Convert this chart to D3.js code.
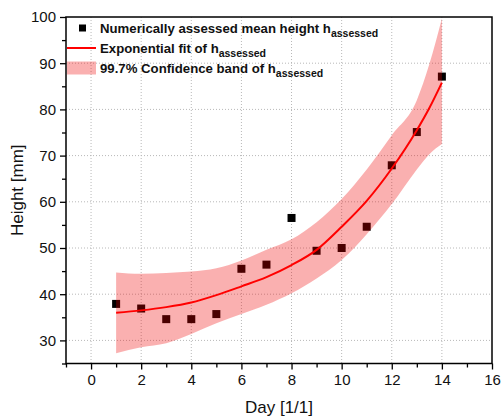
<!doctype html>
<html>
<head>
    <style>
        body { margin: 0; background: #fff; }
        text { font-family: "Liberation Sans", Arial, sans-serif; fill: #111; }
        .grid line { stroke: #b8b8b8; stroke-width: 1; stroke-dasharray: 1,2; }
        .legend text { font-weight: bold; font-size: 13.2px; }
    </style>
    <script src="https://d3js.org/d3.v7.min.js"></script>
</head>
<body>
<svg width="501" height="416"></svg>
<script>
// measured points
var days = [1, 2, 3, 4, 5, 6, 7, 8, 9, 10, 11, 12, 13, 14];
var heights = [37.9, 36.9, 34.6, 34.6, 35.7, 45.5, 46.4, 56.5, 49.4, 50.0, 54.6, 67.9, 75.1, 87.1];

// exponential fit + 99.7% band
var fitDays = [1, 2, 3, 4, 5, 6, 7, 8, 9, 10, 11, 12, 13, 13.5, 14];
var fitVals = [36.0, 36.5, 37.2, 38.2, 39.8, 41.7, 43.7, 46.3, 49.6, 54.6, 60.2, 67.2, 75.5, 80.3, 85.8];
var bandUpper = [44.7, 44.4, 44.6, 44.9, 45.6, 47.3, 49.6, 51.9, 55.6, 60.6, 67.0, 74.4, 82.0, 89.8, 99.7];
var bandLower = [27.2, 28.5, 29.4, 31.4, 33.7, 35.7, 37.7, 40.2, 43.4, 47.4, 53.0, 59.5, 67.0, 70.3, 72.5];

var xTicks = [0, 2, 4, 6, 8, 10, 12, 14, 16];
var yTicks = [30, 40, 50, 60, 70, 80, 90, 100];

var svg = d3.select("svg");
var pl = 66, pr = 492, pt = 17, pb = 363.5;

var x = d3.scaleLinear().domain([-1, 16]).range([pl, pr]);
var y = d3.scaleLinear().domain([25, 100]).range([pb, pt]);

svg.append("rect").attr("width", 501).attr("height", 416).attr("fill", "#fff");

// grid
var grid = svg.append("g").attr("class", "grid");
grid.selectAll(".gx").data(xTicks.filter(function(d) { return d < 16; }))
    .enter().append("line")
    .attr("x1", function(d) { return x(d); }).attr("x2", function(d) { return x(d); })
    .attr("y1", pt).attr("y2", pb);
grid.selectAll(".gy").data(yTicks.filter(function(d) { return d < 100; }))
    .enter().append("line")
    .attr("x1", pl).attr("x2", pr)
    .attr("y1", function(d) { return y(d); }).attr("y2", function(d) { return y(d); });

// points (drawn under the band so they get tinted)
svg.selectAll(".pt").data(days)
    .enter().append("rect")
    .attr("x", function(d) { return x(d) - 4; })
    .attr("y", function(d, i) { return y(heights[i]) - 4; })
    .attr("width", 8).attr("height", 8)
    .attr("fill", "#000");

var band = d3.area()
    .x(function(d, i) { return x(fitDays[i]); })
    .y0(function(d, i) { return y(bandLower[i]); })
    .y1(function(d, i) { return y(bandUpper[i]); })
    .curve(d3.curveMonotoneX);
svg.append("path").datum(fitDays)
    .attr("d", band)
    .attr("fill", "#f00000").attr("fill-opacity", 0.31);

var line = d3.line()
    .x(function(d, i) { return x(fitDays[i]); })
    .y(function(d, i) { return y(fitVals[i]); })
    .curve(d3.curveMonotoneX);
svg.append("path").datum(fitDays)
    .attr("d", line)
    .attr("fill", "none").attr("stroke", "#ff0000").attr("stroke-width", 2);

// axes
svg.append("g").attr("transform", "translate(0," + pb + ")")
    .call(d3.axisBottom(x).tickValues(xTicks).tickSize(6).tickPadding(5).tickFormat(d3.format("d")));
svg.append("g").attr("transform", "translate(0," + pb + ")")
    .call(d3.axisBottom(x).tickValues(d3.range(-1, 16, 2)).tickSize(4).tickFormat(""));
svg.append("g").attr("transform", "translate(" + pl + ",0)")
    .call(d3.axisLeft(y).tickValues(yTicks).tickSize(6).tickPadding(4));
svg.append("g").attr("transform", "translate(" + pl + ",0)")
    .call(d3.axisLeft(y).tickValues(d3.range(25, 100, 10)).tickSize(4).tickFormat(""));

svg.selectAll(".domain").remove();
svg.selectAll(".tick line").attr("stroke", "#000").attr("stroke-width", 1.3);
svg.selectAll(".tick text").attr("font-size", 15).attr("fill", "#111")
    .style("font-family", "'Liberation Sans', Arial, sans-serif");

// frame
svg.append("rect")
    .attr("x", pl).attr("y", pt)
    .attr("width", pr - pl).attr("height", pb - pt)
    .attr("fill", "none").attr("stroke", "#000").attr("stroke-width", 1.5);

// titles
svg.append("text").attr("x", (pl + pr) / 2).attr("y", 413)
    .attr("text-anchor", "middle").attr("font-size", 17).text("Day [1/1]");
svg.append("text").attr("transform", "translate(23," + (pt + pb) / 2 + ") rotate(-90)")
    .attr("text-anchor", "middle").attr("font-size", 17).text("Height [mm]");

// legend
var lg = svg.append("g").attr("class", "legend");
var labels = ["Numerically assessed mean height h", "Exponential fit of h", "99.7% Confidence band of h"];
var rows = lg.selectAll("g").data(labels).enter().append("g")
    .attr("transform", function(d, i) { return "translate(0," + (28 + i * 20) + ")"; });
rows.append("text").attr("x", 100).attr("y", 5)
    .each(function(d) {
        var t = d3.select(this);
        t.append("tspan").text(d);
        t.append("tspan").attr("dy", 4).attr("font-size", 10.5).text("assessed");
    });
rows.filter(function(d, i) { return i === 0; }).append("rect")
    .attr("x", 79).attr("y", -3.5).attr("width", 7).attr("height", 7).attr("fill", "#000");
rows.filter(function(d, i) { return i === 1; }).append("line")
    .attr("x1", 67).attr("x2", 96).attr("y1", 0).attr("y2", 0)
    .attr("stroke", "#ff0000").attr("stroke-width", 2);
rows.filter(function(d, i) { return i === 2; }).append("rect")
    .attr("x", 67).attr("y", -6.5).attr("width", 29).attr("height", 13)
    .attr("fill", "#f00000").attr("fill-opacity", 0.31);
</script>
</body>
</html>
